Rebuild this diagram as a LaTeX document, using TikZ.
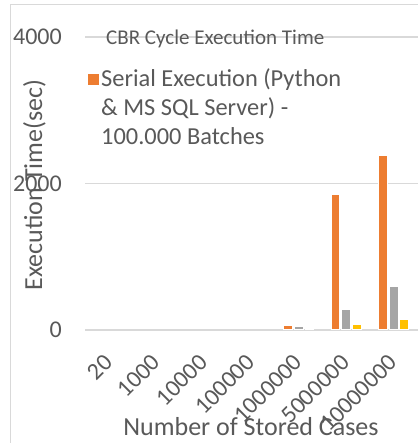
\documentclass[tikz,border=0pt]{standalone}
\usepackage{fontspec}
\setmainfont{Carlito}
\definecolor{txt}{HTML}{595959}
\definecolor{gridc}{HTML}{D9D9D9}
\definecolor{sOrange}{HTML}{ED7D31}
\definecolor{sGray}{HTML}{A5A5A5}
\definecolor{sGold}{HTML}{FFC000}
\tikzset{
  gridline/.style={draw=gridc, line width=1.2pt},
  barbox/.style={draw=white, line width=0.4pt},
  ticklab/.style={text=txt, inner sep=0pt, font=\fontsize{24}{28}\selectfont},
  xticklab/.style={text=txt, inner sep=0pt, rotate=45, anchor=east, font=\fontsize{24}{28}\selectfont},
  axislab/.style={text=txt, inner sep=0pt, font=\fontsize{26}{30}\selectfont},
  legtext/.style={text=txt, inner sep=0pt, anchor=base west, font=\fontsize{24.4}{29}\selectfont},
}
\begin{document}
\begin{tikzpicture}[x=1pt,y=-1pt]
\useasboundingbox (0,0) rectangle (418,443);
\fill[white] (0,0) rectangle (418,443);
% chart frame
\draw[draw=gridc, line width=1pt] (10,443) -- (10,5) -- (418,5);
% gridlines
\coordinate (g4l) at (85,37);   \coordinate (g4r) at (418,37);
\coordinate (g2l) at (85,183.5);\coordinate (g2r) at (418,183.5);
\coordinate (g0l) at (85,330);  \coordinate (g0r) at (418,330);
\draw[gridline] (g4l) -- (g4r);
\draw[gridline] (g2l) -- (g2r);
\draw[gridline] (g0l) -- (g0r);
% y tick labels
\node[ticklab, anchor=east] (y4000) at (62,37) {4000};
\node[ticklab, anchor=east] (y2000) at (62,183.5) {2000};
\node[ticklab, anchor=east] (y0) at (62,330) {0};
% bars: baseline 329.5
% 1000000 (center 298.4)
\fill[sOrange, barbox] (283.3,329.5) rectangle (292,325);
\fill[sGray, barbox] (294.1,329.5) rectangle (302.8,325.7);
\fill[sGold, barbox] (304.7,329.5) rectangle (313.4,327.7);
% 5000000 (center 345.8)
\fill[sOrange, barbox] (330.7,329.5) rectangle (339.4,194);
\fill[sGray, barbox] (341.4,329.5) rectangle (350.1,309.3);
\fill[sGold, barbox] (352.1,329.5) rectangle (360.8,324);
% 10000000 (center 393.2)
\fill[sOrange, barbox] (378.3,329.5) rectangle (387,155.7);
\fill[sGray, barbox] (389,329.5) rectangle (397.7,286);
\fill[sGold, barbox] (399.4,329.5) rectangle (408.1,319.3);
% x tick labels
\node[xticklab] (x1) at (108.5,358.5) {20};
\node[xticklab] (x2) at (155.9,358.5) {1000};
\node[xticklab] (x3) at (203.3,358.5) {10000};
\node[xticklab] (x4) at (250.7,358.5) {100000};
\node[xticklab] (x5) at (298.1,358.5) {1000000};
\node[xticklab] (x6) at (345.5,358.5) {5000000};
\node[xticklab] (x7) at (392.9,358.5) {10000000};
% axis titles
\node[axislab, anchor=base] (xt) at (251,435) {Number of Stored Cases};
\node[axislab, anchor=base, rotate=90] (yt) at (42,185) {Execution Time(sec)};
% chart title
\node[text=txt, inner sep=0pt, anchor=base west, font=\fontsize{21}{25}\selectfont] (title) at (106,45) {CBR Cycle Execution Time};
% legend
\fill[sOrange] (88,74) rectangle (99,85);
\node[legtext] (leg1) at (101,87) {Serial Execution (Python};
\node[legtext] (leg2) at (101,116) {\& MS SQL Server) -};
\node[legtext] (leg3) at (101,145) {100.000 Batches};
\end{tikzpicture}
\end{document}
